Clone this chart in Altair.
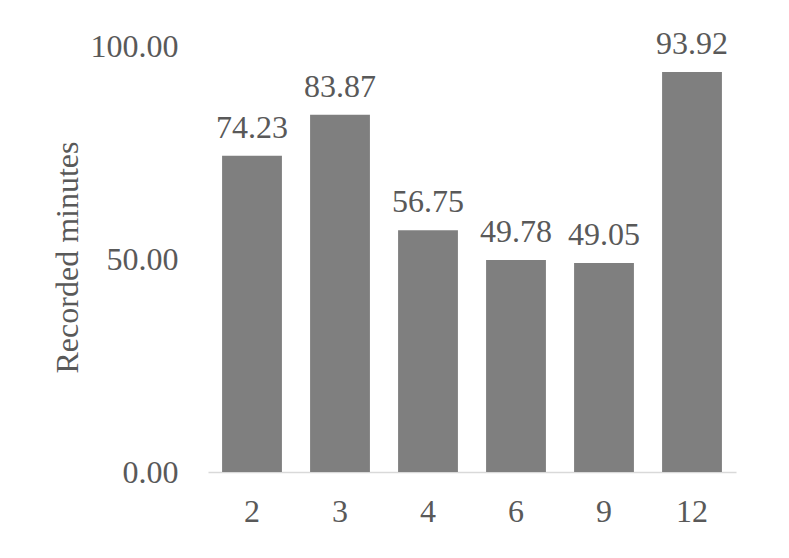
import altair as alt
import pandas as pd

categories = ["2", "3", "4", "6", "9", "12"]
values = [74.23, 83.87, 56.75, 49.78, 49.05, 93.92]

df = pd.DataFrame({"cat": categories, "val": values})
df["label"] = [f"{v:.2f}" for v in values]

FONT = "'Liberation Serif', 'Times New Roman', Times, serif"
TXT = "#595959"
FS = 32

base = alt.Chart(df).encode(
    x=alt.X("cat:N", sort=categories, title=None,
            scale=alt.Scale(paddingInner=0.32, paddingOuter=0.16),
            axis=alt.Axis(labelAngle=0, labelFont=FONT, labelFontSize=FS,
                          labelColor=TXT, labelPadding=24, ticks=False,
                          domainColor="#d9d9d9", domainWidth=1.5)),
    y=alt.Y("val:Q", title="Recorded minutes",
            scale=alt.Scale(domain=[0, 100]),
            axis=alt.Axis(values=[0, 50, 100], format=".2f", labelFont=FONT,
                          labelFontSize=FS, labelColor=TXT, labelPadding=30,
                          ticks=False, domain=False, grid=False,
                          titleFont=FONT, titleFontSize=FS, titleColor=TXT,
                          titleFontWeight="normal", titleX=-131, titleY=211,
                          titleBaseline="alphabetic", titleAngle=270)),
)

bars = base.mark_bar(color="#7f7f7f")
labels = base.mark_text(baseline="alphabetic", dy=-18, font=FONT,
                        fontSize=FS, color=TXT).encode(text="label:N")

chart = (bars + labels).properties(
    width=528, height=426,
    autosize=alt.AutoSizeParams(type="none"),
    padding={"left": 200, "top": 38, "right": 45, "bottom": 80},
).configure_view(stroke=None)

chart.save("out.html", embed_options={"renderer": "svg", "actions": False})
